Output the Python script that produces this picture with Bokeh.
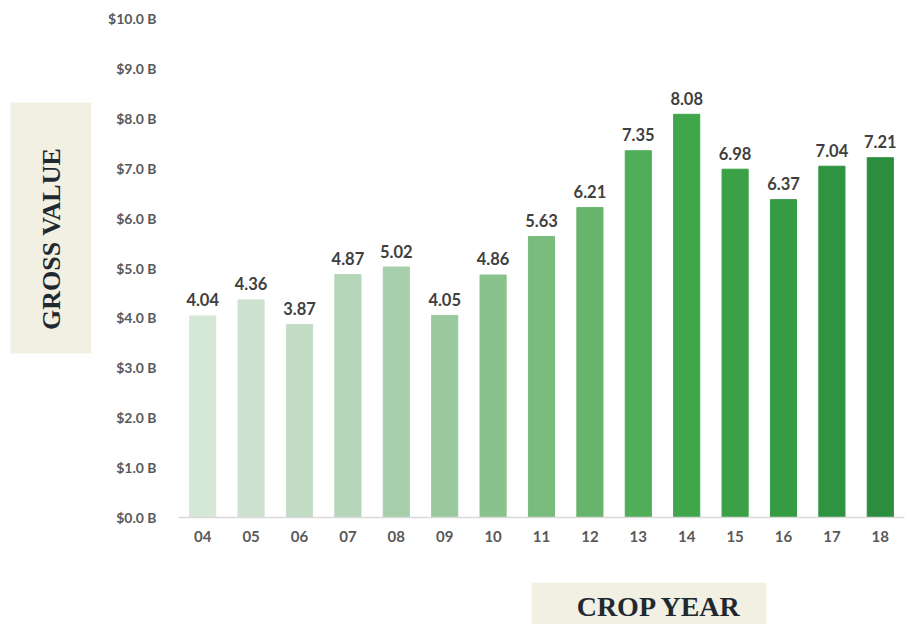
import math
from bokeh.plotting import figure
from bokeh.layouts import column, row
from bokeh.models import (ColumnDataSource, PrintfTickFormatter, FixedTicker,
                          Label, Range1d, FactorRange, BoxAnnotation)
from bokeh.embed import file_html
from bokeh.resources import INLINE
from bokeh.core.properties import value

years = ["04", "05", "06", "07", "08", "09", "10", "11", "12", "13", "14", "15", "16", "17", "18"]
gross_value = [4.04, 4.36, 3.87, 4.87, 5.02, 4.05, 4.86, 5.63, 6.21, 7.35, 8.08, 6.98, 6.37, 7.04, 7.21]
bar_colors = ["#d5e7d7", "#cce2ce", "#c2dcc5", "#b5d6b8", "#a8cfab", "#9bc99e", "#89c28d",
              "#78bb7d", "#67b46c", "#50ad59", "#3fa64b", "#3aa147", "#359b44", "#2f9441", "#2b8d3e"]
y_ticks = [0, 1, 2, 3, 4, 5, 6, 7, 8, 9, 10]
y_title = "GROSS VALUE"
x_title = "CROP YEAR"

labels = ["%.2f" % v for v in gross_value]
src = ColumnDataSource(dict(year=years, val=gross_value, color=bar_colors, label=labels))

beige = "#f2f0e3"
title_color = "#1f2a30"
font = "Lato"


def blank(width, height, flip=False):
    yr = Range1d(height, 0) if flip else Range1d(0, 1)
    f = figure(width=width, height=height, x_range=Range1d(0, width), y_range=yr,
               x_axis_location=None, y_axis_location=None, min_border=0,
               output_backend="svg", toolbar_location=None)
    f.outline_line_color = None
    f.xgrid.visible = False
    f.ygrid.visible = False
    return f


# ---- left title panel ----
left = blank(91, 582, flip=True)
left.add_layout(BoxAnnotation(left=10, right=91, top=102, bottom=353,
                              left_units="canvas", right_units="canvas",
                              top_units="canvas", bottom_units="canvas",
                              fill_color=beige, fill_alpha=1, line_color=None,
                              level="underlay"))
left.text(x=[51], y=[257], text=[y_title], angle=math.pi / 2,
          text_align="center", text_baseline="middle",
          text_font=value("Liberation Serif"), text_font_style="bold",
          text_font_size="26px", text_color=title_color, level="overlay")

# ---- main chart ----
p = figure(width=823, height=582, x_range=FactorRange(*years), y_range=Range1d(0, 10),
           output_backend="svg", toolbar_location=None,
           min_border_left=87, min_border_right=10, min_border_top=18, min_border_bottom=65)
p.outline_line_color = None
p.xgrid.grid_line_color = None
p.ygrid.grid_line_color = None
p.x_range.range_padding = 0

p.vbar(x="year", top="val", width=0.54, color="color", source=src)
p.text(x="year", y="val", text="label", source=src, text_align="center",
       text_baseline="alphabetic", y_offset=-16, text_font=value(font),
       text_font_style="bold", text_font_size="16.5px", text_color="#404040")

p.yaxis.ticker = FixedTicker(ticks=y_ticks)
p.yaxis.formatter = PrintfTickFormatter(format="$%.1f B")
p.yaxis.axis_line_color = None
p.yaxis.major_tick_line_color = None
p.yaxis.minor_tick_line_color = None
p.yaxis.major_label_standoff = 16
p.yaxis.major_label_text_font = font
p.yaxis.major_label_text_font_style = "bold"
p.yaxis.major_label_text_font_size = "14px"
p.yaxis.major_label_text_color = "#595959"

p.xaxis.axis_line_color = "#d9d9d9"
p.xaxis.axis_line_width = 1.5
p.xaxis.major_tick_line_color = None
p.xaxis.minor_tick_line_color = None
p.xaxis.major_label_standoff = 7
p.xaxis.major_label_text_font = font
p.xaxis.major_label_text_font_style = "bold"
p.xaxis.major_label_text_font_size = "15px"
p.xaxis.major_label_text_color = "#595959"

# ---- bottom title panel ----
bottom = blank(914, 42)
bottom.add_layout(BoxAnnotation(left=531, right=766, top=0, bottom=42,
                                left_units="canvas", right_units="canvas",
                                top_units="canvas", bottom_units="canvas",
                                fill_color=beige, fill_alpha=1, line_color=None,
                                level="underlay"))
bottom.add_layout(Label(x=659, y=18, x_units="screen", y_units="screen", text=x_title,
                        text_align="center", text_baseline="middle",
                        text_font="Liberation Serif", text_font_style="bold",
                        text_font_size="28px", text_color=title_color))

layout = column(row(left, p, spacing=0), bottom, spacing=0)
open("out.html", "w").write(file_html(layout, INLINE))
